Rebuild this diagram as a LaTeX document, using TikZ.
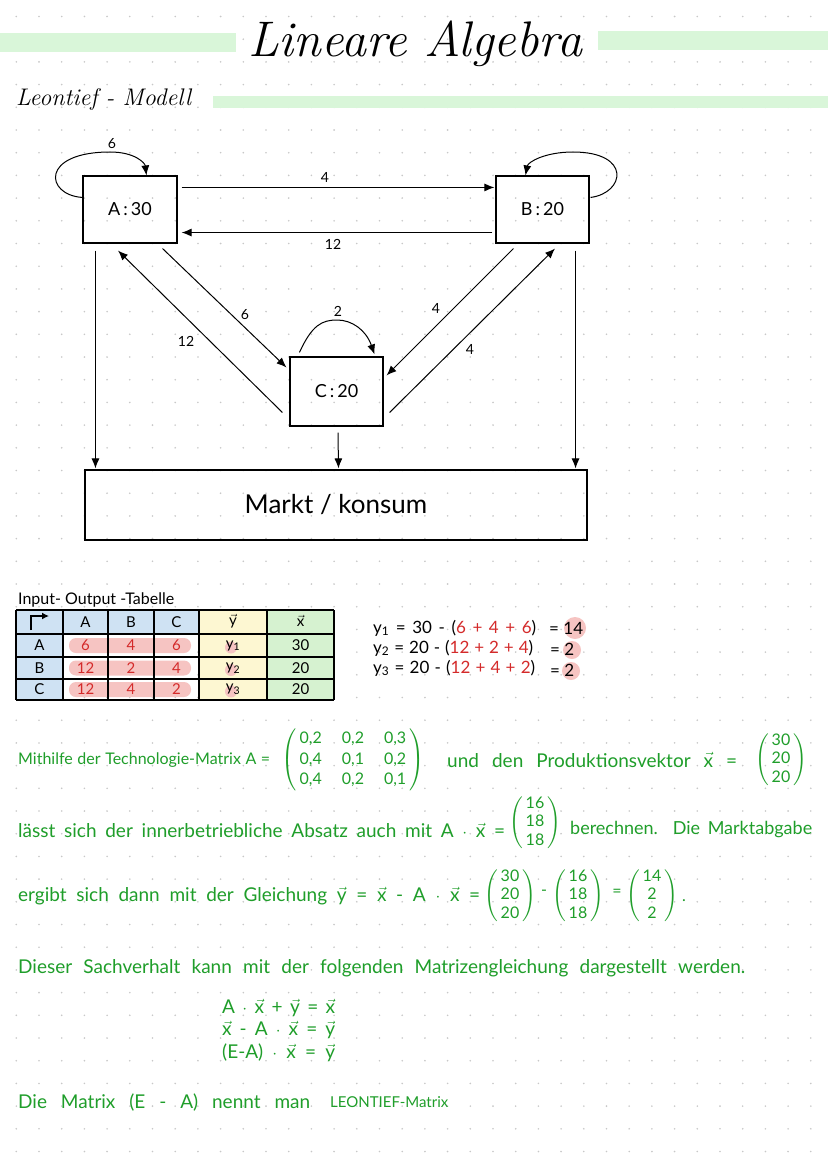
\documentclass[tikz,border=0pt]{standalone}
\usepackage{fontspec}
\usepackage{amsmath}
\newfontfamily\hand{Lato}
\usetikzlibrary{arrows.meta,calc}
\definecolor{hgreen}{HTML}{D9F6D9}
\definecolor{tgreen}{HTML}{1F9E2A}
\definecolor{tred}{HTML}{D42A2A}
\definecolor{pinkhl}{HTML}{F6C4C2}
\definecolor{tblue}{HTML}{CFE2F3}
\definecolor{tyellow}{HTML}{FDF7D2}
\definecolor{tgreencell}{HTML}{D6F2D0}
\definecolor{dotgray}{HTML}{C8C8C8}
\newcommand\hs[1]{\hand\fontsize{#1}{#1}\selectfont}
\newcommand\fit[2]{\makebox[#1pt][s]{#2}}
\newcommand\vx{\ensuremath{\vec{\text{x}}}}
\newcommand\vy{\ensuremath{\vec{\text{y}}}}
\newcommand\colv[3]{\ensuremath{\renewcommand\arraystretch{1.15}\left(\begin{array}{@{\,}c@{\,}}\text{#1}\\\text{#2}\\\text{#3}\end{array}\right)}}
\begin{document}
\begin{tikzpicture}[x=1pt,y=-1pt,
  box/.style={draw,line width=1.1pt,inner sep=0pt,font=\hs{18}},
  arr/.style={-{Latex[length=10pt,width=8pt]},line width=1pt},
  lbl/.style={font=\hs{14},inner sep=1pt},
  gt/.style={font=\hs{19},text=tgreen,inner sep=0pt,anchor=west},
  gm/.style={font=\hs{16},text=tgreen,inner sep=0pt},
  tt/.style={font=\hs{15},inner sep=0pt},
  rt/.style={font=\hs{15},text=tred,inner sep=0pt},
  eq/.style={font=\hs{17},inner sep=0pt,anchor=west}]
\useasboundingbox (0,0) rectangle (828,1169);
\fill[white] (0,0) rectangle (828,1169);
% dotted paper
\foreach \i in {0,...,35} {\foreach \j in {0,...,50} {\fill[dotgray] (16.3+\i*22.7,16.5+\j*22.7) circle (0.9pt);}}
% title
\fill[hgreen] (0,33) rectangle (236,52);
\fill[hgreen] (598,31) rectangle (828,50);
\node[inner sep=0pt] (title) at (415,44) {\fontsize{50}{56}\selectfont\itshape Lineare Algebra};
\fill[hgreen] (213,96) rectangle (828,108);
\node[inner sep=0pt,anchor=west] (sub) at (16,100) {\fontsize{24}{26}\selectfont\itshape Leontief - Modell};

% graph
\node[box,minimum width=94pt,minimum height=67pt] (A) at (130,209.5) {A\,:\,30};
\node[box,minimum width=93pt,minimum height=67pt] (B) at (542.5,209.5) {B\,:\,20};
\node[box,minimum width=93pt,minimum height=69pt] (C) at (336.5,391.5) {C\,:\,20};
\node[box,minimum width=502pt,minimum height=70pt,font=\hs{26}] (M) at (336,505) {Markt / konsum};

\draw[arr] ($(A.north east)+(4,12)$) -- ($(B.north west)+(-1,12)$);
\draw[arr] ($(B.south west)+(-3,-11)$) -- ($(A.south east)+(4,-11)$);
\draw[arr] ($(A.north west)+(0,22)$) .. controls (45,195) and (40,152) .. (110,152) .. controls (135,152) and (145,163) .. ($(A.north west)+(64,0)$);
\draw[arr] ($(B.north east)+(1,22)$) .. controls (625,193) and (632,152) .. (573,152) .. controls (545,152) and (528,162) .. ($(B.north west)+(30,0)$);
\draw[arr] ($(C.north west)+(10,-4)$) .. controls (312,325) and (322,320) .. (337,320) .. controls (352,320) and (366,330) .. ($(C.north east)+(-9,-2)$);
\draw[arr] ($(A.south west)+(13,7)$) -- ($(M.north west)+(11,-1)$);
\draw[arr] ($(B.south east)+(-14,7)$) -- ($(M.north east)+(-12,-1)$);
\draw[arr] ($(C.south)+(1.5,6)$) -- ($(M.north)+(2.5,-1)$);
\draw[arr] ($(A.south east)+(-15,5)$) -- ($(C.north west)+(-3,11)$);
\draw[arr] ($(C.west)+(-7,21)$) -- ($(A.south)+(-12,7)$);
\draw[arr] ($(B.south west)+(18,5)$) -- ($(C.north east)+(3,19)$);
\draw[arr] ($(C.east)+(6,21)$) -- ($(B.south)+(12.5,5)$);

\node[lbl] (l1) at (112,144) {6};
\node[lbl] (l2) at (325,177) {4};
\node[lbl] (l3) at (333,244) {12};
\node[lbl] (l4) at (245,315) {6};
\node[lbl] (l5) at (186,341) {12};
\node[lbl] (l6) at (436,308) {4};
\node[lbl] (l7) at (470,349) {4};
\node[lbl] (l8) at (338,311) {2};

% table
\node[inner sep=0pt,anchor=west,font=\hs{16}] (ttitle) at (18,600) {Input- Output -Tabelle};
\fill[tblue] (16,610) rectangle (199,634);
\fill[tblue] (16,634) rectangle (63,700);
\fill[tyellow] (199,610) rectangle (267,700);
\fill[tgreencell] (267,610) rectangle (334,700);
\foreach \yy in {645.5,668,689.5} {\fill[pinkhl,rounded corners=7pt] (69,\yy-7.5) rectangle (191,\yy+7.5); \fill[pinkhl] (231,\yy+2) circle (6pt);}
\foreach \xx in {16,63,108,154,199,267,334} {\draw[line width=1.2pt] (\xx,610) -- (\xx,700);}
\foreach \yy in {610,634,657,679,700} {\draw[line width=1.2pt] (16,\yy) -- (334,\yy);}
\draw[line width=1.4pt,-{Latex[length=7pt,width=7pt]}] (31,630) -- (31,616) -- (49,616);
\node[tt] (hA) at (85.5,622) {A};
\node[tt] (hB) at (131,622) {B};
\node[tt] (hC) at (176.5,622) {C};
\node[tt] (hy) at (233,621) {\vy};
\node[tt] (hx) at (300.5,621) {\vx};
\node[tt] (rA) at (39.5,645.5) {A};
\node[tt] (rB) at (39.5,668) {B};
\node[tt] (rC) at (39.5,689.5) {C};
\node[rt] (a11) at (85.5,645.5) {6};
\node[rt] (a12) at (131,645.5) {4};
\node[rt] (a13) at (176.5,645.5) {6};
\node[rt] (a21) at (85.5,668) {12};
\node[rt] (a22) at (131,668) {2};
\node[rt] (a23) at (176.5,668) {4};
\node[rt] (a31) at (85.5,689.5) {12};
\node[rt] (a32) at (131,689.5) {4};
\node[rt] (a33) at (176.5,689.5) {2};
\node[tt] (y1) at (233,645.5) {y\textsubscript{1}};
\node[tt] (y2) at (233,668) {y\textsubscript{2}};
\node[tt] (y3) at (233,689.5) {y\textsubscript{3}};
\node[tt] (x1) at (300.5,645.5) {30};
\node[tt] (x2) at (300.5,668) {20};
\node[tt] (x3) at (300.5,689.5) {20};

% y equations
\fill[pinkhl] (575,628) circle (11pt);
\fill[pinkhl] (572,650) circle (9pt);
\fill[pinkhl] (571,671) circle (9pt);
\node[eq] (e1) at (373,628) {\fit{163}{y\textsubscript{1} = 30 - (\textcolor{tred}{6 + 4 + 6})}};
\node[eq] (e2) at (373,648) {\fit{160}{y\textsubscript{2} = 20 - (\textcolor{tred}{12 + 2 + 4})}};
\node[eq] (e3) at (373,668) {\fit{162}{y\textsubscript{3} = 20 - (\textcolor{tred}{12 + 4 + 2})}};
\node[eq] (r1) at (549,628) {= 14};
\node[eq] (r2) at (550,649) {= 2};
\node[eq] (r3) at (550,670) {= 2};

% green text
\node[gt,font=\hs{16}] (t1) at (18,760) {\fit{252}{Mithilfe der Technologie-Matrix A =}};
\node[gm] (mA) at (353,760) {\ensuremath{\renewcommand\arraystretch{1.28}\left(\begin{array}{@{\,}c@{\hspace{20pt}}c@{\hspace{20pt}}c@{\,}}\text{0,2}&\text{0,2}&\text{0,3}\\\text{0,4}&\text{0,1}&\text{0,2}\\\text{0,4}&\text{0,2}&\text{0,1}\end{array}\right)}};
\node[gt] (t2) at (447,760) {\fit{290}{und den Produktionsvektor \vx\ =}};
\node[gm] (vx) at (781,760) {\colv{30}{20}{20}};
\node[gt] (t3) at (18,830) {\fit{487}{lässt sich der innerbetriebliche Absatz auch mit A $\cdot$ \vx\ =}};
\node[gm] (vax) at (535,823) {\colv{16}{18}{18}};
\node[gt,font=\hs{18}] (t4) at (570,830) {\fit{242}{berechnen. Die Marktabgabe}};
\node[gt] (t5) at (18,896) {\fit{462}{ergibt sich dann mit der Gleichung \vy\ = \vx\ - A $\cdot$ \vx\ =}};
\node[gm] (v1) at (510,896) {\colv{30}{20}{20}};
\node[gm] (mi) at (544,893) {-};
\node[gm] (v2) at (578,896) {\colv{16}{18}{18}};
\node[gm] (eqs) at (617,893) {=};
\node[gm] (v3) at (652,896) {\colv{14}{2}{2}};
\node[gm] (dot) at (684,901) {.};
\node[gt] (t6) at (18,968) {\fit{727}{Dieser Sachverhalt kann mit der folgenden Matrizengleichung dargestellt werden.}};
\node[gt,font=\hs{19}] (q1) at (222,1008) {\fit{113}{A $\cdot$ \vx\ + \vy\ = \vx}};
\node[gt,font=\hs{19}] (q2) at (222,1030) {\fit{113}{\vx\ - A $\cdot$ \vx\ = \vy}};
\node[gt,font=\hs{19}] (q3) at (222,1053) {\fit{113}{(E-A) $\cdot$ \vx\ = \vy}};
\node[gt] (t7) at (18,1103) {\fit{292}{Die Matrix (E - A) nennt man}};
\node[gt,font=\hs{15}] (t8) at (330,1102) {LEONTIEF-Matrix};
\end{tikzpicture}
\end{document}
